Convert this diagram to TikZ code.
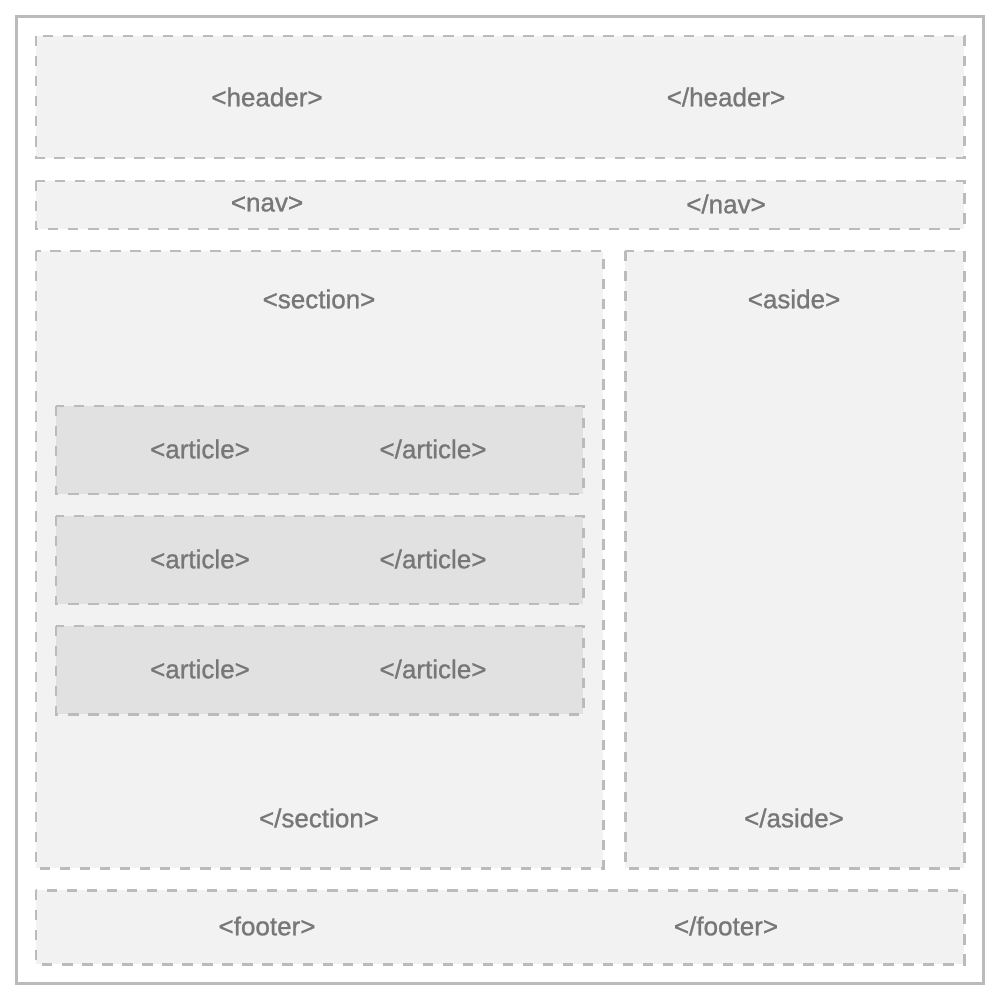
\documentclass[tikz,border=0pt]{standalone}
\usepackage{fontspec}
\setmainfont{Liberation Sans}
\newfontfamily\tagfont[FakeBold=1]{Liberation Sans}
\usepackage{xcolor}
\usetikzlibrary{math}
\definecolor{boxfill}{HTML}{F2F2F2}
\definecolor{artfill}{HTML}{E1E1E1}
\definecolor{linegray}{HTML}{BBBBBB}
\definecolor{textgray}{HTML}{777777}
\tikzset{
  region/.style={fill=boxfill, draw=linegray, line width=1.7pt, dash pattern=on 5.9pt off 5.5pt},
  artregion/.style={region, fill=artfill},
  tag/.style={text=textgray, font=\tagfont\fontsize{14.8pt}{16pt}\selectfont, inner sep=0pt}
}

\begin{document}
\begin{tikzpicture}[x=0.02cm, y=-0.02cm]
\tikzmath{
\l=36; \r=964;
\xl=267; \xr=726;
}
\useasboundingbox (0,0) rectangle (1000,1000);
\fill[white] (0,0) rectangle (1000,1000);
\draw[linegray, line width=1.8pt] (16.5,16.5) rectangle (983.5,983.5);

% header and nav
\draw[region] (\l,36) rectangle (\r,158);
\node[tag] (headopen) at (\xl,97) {<header>};
\node[tag] (headclose) at (\xr,97) {</header>};
\draw[region] (\l,181) rectangle (\r,229);
\node[tag] (navopen) at (\xl,204) {<nav>};
\node[tag] (navclose) at (\xr,204) {</nav>};

% section with articles
\draw[region] (\l,251) rectangle (603,868);
\node[tag] (secopen) at (319,299) {<section>};
\node[tag] (secclose) at (319,818) {</section>};
\foreach \y/\n in {406/1, 516/2, 626/3} {
  \draw[artregion] (56,\y) rectangle (583,\y+88);
  \node[tag] (artopen\n) at (200,\y+43) {<article>};
  \node[tag] (artclose\n) at (433,\y+43) {</article>};
}

% aside
\draw[region] (625,251) rectangle (\r,868);
\node[tag] (asideopen) at (794,299) {<aside>};
\node[tag] (asideclose) at (794,818) {</aside>};

% footer
\draw[region] (\l,890) rectangle (\r,964);
\node[tag] (footopen) at (\xl,926) {<footer>};
\node[tag] (footclose) at (\xr,926) {</footer>};
\end{tikzpicture}
\end{document}
